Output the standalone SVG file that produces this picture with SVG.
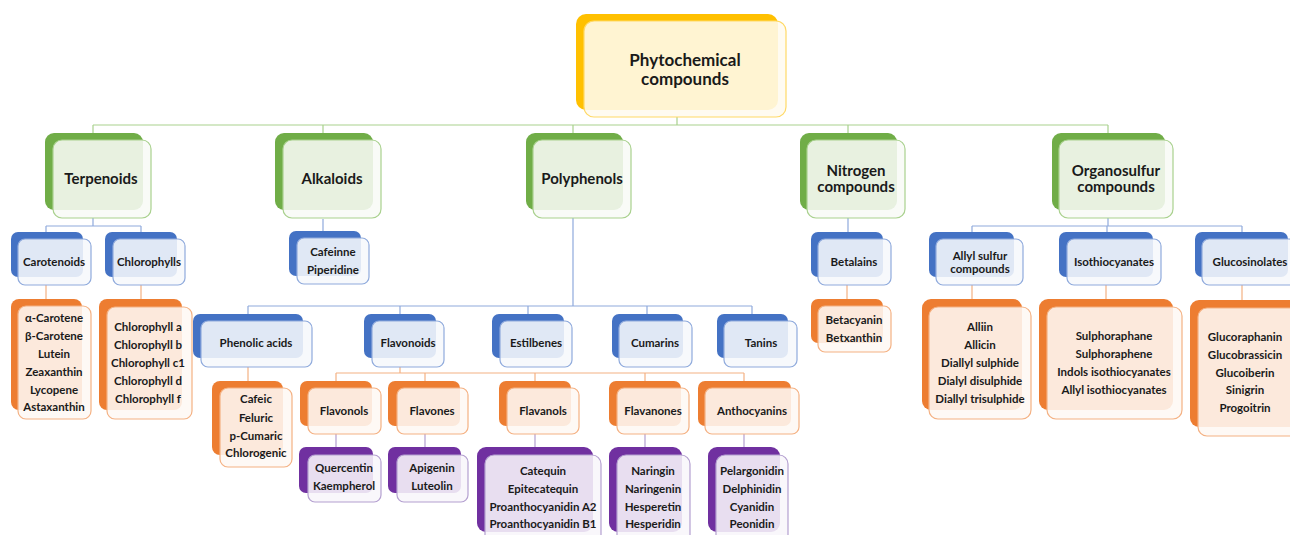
<svg xmlns="http://www.w3.org/2000/svg" width="1290" height="535" viewBox="0 0 1290 535">
<style>
text{font-family:Lato,"Liberation Sans",sans-serif;font-weight:700;fill:#1a1a1a;text-anchor:middle}
.s{font-size:11.5px}
.m{font-size:15px}
.l{font-size:17px}
.c{fill:none;stroke-width:1.2}
.cg{stroke:#A9D18E}.cb{stroke:#8FAADC}.co{stroke:#F4B183}.cp{stroke:#B4A0D0}
.by{fill:#FFC000}.fy{fill:#FFFBEF;fill-opacity:.88;stroke:#FFD966;stroke-width:1.2}
.bg{fill:#70AD47}.fg{fill:#F8FBF6;fill-opacity:.88;stroke:#A9D18E;stroke-width:1.2}
.bb{fill:#4472C4}.fb{fill:#F6F8FC;fill-opacity:.88;stroke:#8FAADC;stroke-width:1.2}
.bo{fill:#ED7D31}.fo{fill:#FEF8F4;fill-opacity:.88;stroke:#F4B183;stroke-width:1.2}
.bp{fill:#7030A0}.fp{fill:#F8F6FB;fill-opacity:.88;stroke:#B4A0D0;stroke-width:1.2}
</style>
<rect width="1290" height="535" fill="#fff"/>
<g id="connectors">
<path class="c cg" d="M677 117V125M93 125H1108M93 125V133M323 125V133M573 125V133M848 125V133M1108 125V133"/>
<path class="c cb" d="M93 218V226M46 226H141M46 226V232M141 226V232M323 219V231M848 218V232M1108 218V226M972 226H1242M972 226V232M1107 226V232M1242 226V232M573 218V306M248 306H752M248 306V314M400 306V314M528 306V314M647 306V314M752 306V314"/>
<path class="c co" d="M46 285V299M141 285V299M847 285V299M972 285V299M1106 285V299M1242 285V300M248 367V381M400 367V373M336 373H744M336 373V381M425 373V381M535 373V381M645 373V381M744 373V381"/>
<path class="c cp" d="M336 434V447M425 434V447M535 434V447M645 434V447M744 434V447"/>
</g>
<g id="phytochemical">
<rect class="by" x="576" y="14" width="202" height="96" rx="10"/>
<rect class="fy" x="584" y="21" width="202" height="96" rx="10"/>
<text class="l" x="685" y="66">Phytochemical</text>
<text class="l" x="685" y="85">compounds</text>
</g>
<g id="terpenoids">
<rect class="bg" x="45" y="133" width="98" height="77" rx="9"/>
<rect class="fg" x="53" y="140" width="98" height="78" rx="9"/>
<text class="m" x="101" y="184">Terpenoids</text>
</g>
<g id="alkaloids">
<rect class="bg" x="275" y="133" width="98" height="77" rx="9"/>
<rect class="fg" x="283" y="140" width="98" height="78" rx="9"/>
<text class="m" x="332" y="184">Alkaloids</text>
</g>
<g id="polyphenols">
<rect class="bg" x="526" y="133" width="97" height="77" rx="9"/>
<rect class="fg" x="533" y="140" width="98" height="78" rx="9"/>
<text class="m" x="582" y="184">Polyphenols</text>
</g>
<g id="nitrogen">
<rect class="bg" x="800" y="133" width="97" height="77" rx="9"/>
<rect class="fg" x="807" y="140" width="98" height="78" rx="9"/>
<text class="m" x="856" y="176">Nitrogen</text>
<text class="m" x="856" y="192">compounds</text>
</g>
<g id="organosulfur">
<rect class="bg" x="1052" y="133" width="113" height="77" rx="9"/>
<rect class="fg" x="1059" y="140" width="114" height="78" rx="9"/>
<text class="m" x="1116" y="176">Organosulfur</text>
<text class="m" x="1116" y="192">compounds</text>
</g>
<g id="carotenoids">
<rect class="bb" x="11" y="232" width="72" height="45" rx="7"/>
<rect class="fb" x="18" y="239" width="73" height="46" rx="7"/>
<text class="s" x="54" y="266">Carotenoids</text>
</g>
<g id="chlorophylls">
<rect class="bb" x="105" y="232" width="72" height="45" rx="7"/>
<rect class="fb" x="113" y="239" width="72" height="46" rx="7"/>
<text class="s" x="149" y="266">Chlorophylls</text>
</g>
<g id="alkaloid-list">
<rect class="bb" x="289" y="231" width="72" height="45" rx="7"/>
<rect class="fb" x="297" y="238" width="72" height="46" rx="7"/>
<text class="s" x="333" y="256">Cafeinne</text>
<text class="s" x="333" y="274">Piperidine</text>
</g>
<g id="betalains">
<rect class="bb" x="811" y="232" width="72" height="45" rx="7"/>
<rect class="fb" x="818" y="239" width="73" height="46" rx="7"/>
<text class="s" x="854" y="266">Betalains</text>
</g>
<g id="allyl-sulfur">
<rect class="bb" x="929" y="232" width="85" height="45" rx="7"/>
<rect class="fb" x="936" y="239" width="87" height="46" rx="7"/>
<text class="s" x="980" y="260">Allyl sulfur</text>
<text class="s" x="980" y="273">compounds</text>
</g>
<g id="isothiocyanates">
<rect class="bb" x="1059" y="232" width="94" height="45" rx="7"/>
<rect class="fb" x="1067" y="239" width="94" height="46" rx="7"/>
<text class="s" x="1114" y="266">Isothiocyanates</text>
</g>
<g id="glucosinolates">
<rect class="bb" x="1195" y="232" width="93" height="45" rx="7"/>
<rect class="fb" x="1202" y="239" width="94" height="46" rx="7"/>
<text class="s" x="1250" y="266">Glucosinolates</text>
</g>
<g id="carotene-list">
<rect class="bo" x="11" y="299" width="71" height="111" rx="8"/>
<rect class="fo" x="18" y="306" width="73" height="113" rx="8"/>
<text class="s" x="54" y="322">α-Carotene</text>
<text class="s" x="54" y="340">β-Carotene</text>
<text class="s" x="54" y="358">Lutein</text>
<text class="s" x="54" y="376">Zeaxanthin</text>
<text class="s" x="54" y="394">Lycopene</text>
<text class="s" x="54" y="411">Astaxanthin</text>
</g>
<g id="chlorophyll-list">
<rect class="bo" x="99" y="299" width="83" height="111" rx="8"/>
<rect class="fo" x="107" y="307" width="85" height="112" rx="8"/>
<text class="s" x="148" y="331">Chlorophyll a</text>
<text class="s" x="148" y="349">Chlorophyll b</text>
<text class="s" x="148" y="367">Chlorophyll c1</text>
<text class="s" x="148" y="385">Chlorophyll d</text>
<text class="s" x="148" y="403">Chlorophyll f</text>
</g>
<g id="betalain-list">
<rect class="bo" x="811" y="299" width="72" height="44" rx="7"/>
<rect class="fo" x="818" y="306" width="73" height="46" rx="7"/>
<text class="s" x="854" y="324">Betacyanin</text>
<text class="s" x="854" y="342">Betxanthin</text>
</g>
<g id="allyl-list">
<rect class="bo" x="922" y="299" width="100" height="111" rx="9"/>
<rect class="fo" x="929" y="307" width="102" height="112" rx="9"/>
<text class="s" x="980" y="331">Alliin</text>
<text class="s" x="980" y="349">Allicin</text>
<text class="s" x="980" y="367">Diallyl sulphide</text>
<text class="s" x="980" y="385">Dialyl disulphide</text>
<text class="s" x="980" y="403">Diallyl trisulphide</text>
</g>
<g id="isothiocyanate-list">
<rect class="bo" x="1039" y="299" width="134" height="111" rx="9"/>
<rect class="fo" x="1047" y="307" width="135" height="112" rx="9"/>
<text class="s" x="1114" y="340">Sulphoraphane</text>
<text class="s" x="1114" y="358">Sulphoraphene</text>
<text class="s" x="1114" y="376">Indols isothiocyanates</text>
<text class="s" x="1114" y="394">Allyl isothiocyanates</text>
</g>
<g id="glucosinolate-list">
<rect class="bo" x="1190" y="300" width="110" height="127" rx="9"/>
<rect class="fo" x="1198" y="308" width="110" height="128" rx="9"/>
<text class="s" x="1245" y="341">Glucoraphanin</text>
<text class="s" x="1245" y="359">Glucobrassicin</text>
<text class="s" x="1245" y="377">Glucoiberin</text>
<text class="s" x="1245" y="394">Sinigrin</text>
<text class="s" x="1245" y="412">Progoitrin</text>
</g>
<g id="phenolic-acids">
<rect class="bb" x="193" y="314" width="110" height="44" rx="7"/>
<rect class="fb" x="201" y="321" width="111" height="46" rx="7"/>
<text class="s" x="256" y="347">Phenolic acids</text>
</g>
<g id="flavonoids">
<rect class="bb" x="364" y="314" width="72" height="44" rx="7"/>
<rect class="fb" x="372" y="321" width="72" height="46" rx="7"/>
<text class="s" x="408" y="347">Flavonoids</text>
</g>
<g id="estilbenes">
<rect class="bb" x="492" y="314" width="72" height="44" rx="7"/>
<rect class="fb" x="500" y="321" width="72" height="46" rx="7"/>
<text class="s" x="536" y="347">Estilbenes</text>
</g>
<g id="cumarins">
<rect class="bb" x="612" y="314" width="71" height="44" rx="7"/>
<rect class="fb" x="619" y="321" width="73" height="46" rx="7"/>
<text class="s" x="655" y="347">Cumarins</text>
</g>
<g id="tanins">
<rect class="bb" x="717" y="314" width="71" height="44" rx="7"/>
<rect class="fb" x="724" y="321" width="73" height="46" rx="7"/>
<text class="s" x="761" y="347">Tanins</text>
</g>
<g id="phenolic-list">
<rect class="bo" x="212" y="381" width="71" height="74" rx="8"/>
<rect class="fo" x="220" y="388" width="72" height="79" rx="8"/>
<text class="s" x="256" y="403">Cafeic</text>
<text class="s" x="256" y="422">Feluric</text>
<text class="s" x="256" y="440">p-Cumaric</text>
<text class="s" x="256" y="457">Chlorogenic</text>
</g>
<g id="flavonols">
<rect class="bo" x="300" y="381" width="72" height="45" rx="7"/>
<rect class="fo" x="308" y="388" width="73" height="46" rx="7"/>
<text class="s" x="344" y="415">Flavonols</text>
</g>
<g id="flavones">
<rect class="bo" x="388" y="381" width="72" height="45" rx="7"/>
<rect class="fo" x="397" y="388" width="71" height="46" rx="7"/>
<text class="s" x="432" y="415">Flavones</text>
</g>
<g id="flavanols">
<rect class="bo" x="499" y="381" width="72" height="45" rx="7"/>
<rect class="fo" x="507" y="388" width="72" height="46" rx="7"/>
<text class="s" x="543" y="415">Flavanols</text>
</g>
<g id="flavanones">
<rect class="bo" x="609" y="381" width="72" height="45" rx="7"/>
<rect class="fo" x="617" y="388" width="72" height="46" rx="7"/>
<text class="s" x="653" y="415">Flavanones</text>
</g>
<g id="anthocyanins">
<rect class="bo" x="698" y="381" width="93" height="45" rx="7"/>
<rect class="fo" x="705" y="388" width="94" height="46" rx="7"/>
<text class="s" x="752" y="415">Anthocyanins</text>
</g>
<g id="flavonol-list">
<rect class="bp" x="299" y="447" width="74" height="46" rx="7"/>
<rect class="fp" x="308" y="455" width="73" height="47" rx="7"/>
<text class="s" x="344" y="472">Quercentin</text>
<text class="s" x="344" y="490">Kaempherol</text>
</g>
<g id="flavone-list">
<rect class="bp" x="388" y="447" width="73" height="46" rx="7"/>
<rect class="fp" x="397" y="455" width="71" height="47" rx="7"/>
<text class="s" x="432" y="472">Apigenin</text>
<text class="s" x="432" y="490">Luteolin</text>
</g>
<g id="flavanol-list">
<rect class="bp" x="477" y="447" width="116" height="85" rx="9"/>
<rect class="fp" x="485" y="455" width="116" height="90" rx="9"/>
<text class="s" x="543" y="475">Catequin</text>
<text class="s" x="543" y="493">Epitecatequin</text>
<text class="s" x="543" y="511">Proanthocyanidin A2</text>
<text class="s" x="543" y="528">Proanthocyanidin B1</text>
</g>
<g id="flavanone-list">
<rect class="bp" x="609" y="447" width="73" height="85" rx="9"/>
<rect class="fp" x="617" y="455" width="73" height="90" rx="9"/>
<text class="s" x="653" y="475">Naringin</text>
<text class="s" x="653" y="493">Naringenin</text>
<text class="s" x="653" y="511">Hesperetin</text>
<text class="s" x="653" y="528">Hesperidin</text>
</g>
<g id="anthocyanin-list">
<rect class="bp" x="708" y="447" width="72" height="85" rx="9"/>
<rect class="fp" x="716" y="455" width="72" height="90" rx="9"/>
<text class="s" x="752" y="475">Pelargonidin</text>
<text class="s" x="752" y="493">Delphinidin</text>
<text class="s" x="752" y="511">Cyanidin</text>
<text class="s" x="752" y="528">Peonidin</text>
</g>
</svg>
